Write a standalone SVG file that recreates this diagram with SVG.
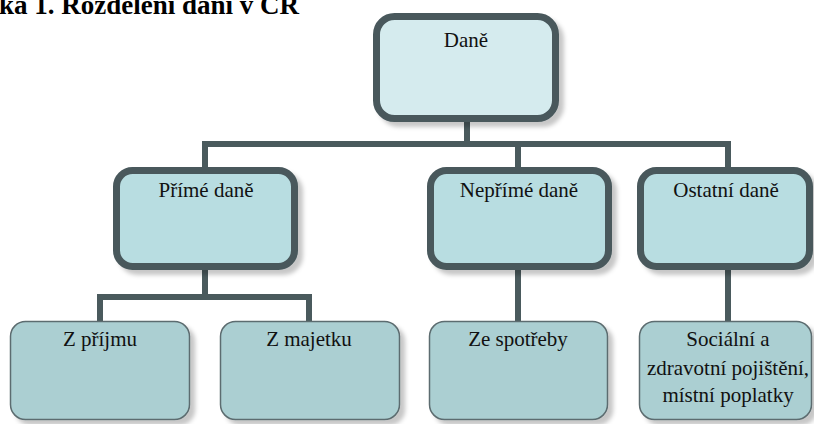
<svg xmlns="http://www.w3.org/2000/svg" width="814" height="424" viewBox="0 0 814 424">
  <defs>
    <filter id="shadow" x="-10%" y="-10%" width="130%" height="130%">
      <feGaussianBlur in="SourceAlpha" stdDeviation="2"/>
      <feOffset dx="5" dy="5" result="off"/>
      <feFlood flood-color="#000000" flood-opacity="0.22"/>
      <feComposite in2="off" operator="in"/>
      <feMerge>
        <feMergeNode/>
        <feMergeNode in="SourceGraphic"/>
      </feMerge>
    </filter>
  </defs>
  <style>
    .title { font-family: "Liberation Serif", "Times New Roman", serif; font-weight: bold; font-size: 27px; fill: #000; }
    .lbl { font-family: "Liberation Serif", "Times New Roman", serif; font-size: 21px; fill: #111; text-anchor: middle; }
    .top { fill: #d5ebee; stroke: #48585c; stroke-width: 7; filter: url(#shadow); }
    .mid { fill: #b8dde1; stroke: #48585c; stroke-width: 7; filter: url(#shadow); }
    .leaf { fill: #abcfd2; stroke: #5c6c6f; stroke-width: 1.5; filter: url(#shadow); }
    .conn { fill: none; stroke: #4a5a5d; stroke-width: 6; stroke-linejoin: miter; }
  </style>

  <rect width="814" height="424" fill="#ffffff"/>

  <text class="title" x="-1" y="14">ka 1. Rozdělení daní v ČR</text>

  <g id="connectors">
    <polyline class="conn" points="467,120 467,144"/>
    <polyline class="conn" points="205,170 205,144 728,144 728,170"/>
    <polyline class="conn" points="518,144 518,170"/>
    <polyline class="conn" points="100,322 100,297 309,297 309,322"/>
    <polyline class="conn" points="205,268 205,297"/>
    <polyline class="conn" points="518,268 518,322"/>
    <polyline class="conn" points="728,268 728,322"/>
  </g>

  <g id="dane">
    <rect class="top" x="376.5" y="16.5" width="179" height="102" rx="18"/>
    <text class="lbl" x="466" y="47">Daně</text>
  </g>

  <g id="prime-dane">
    <rect class="mid" x="116.5" y="170.5" width="178" height="96" rx="16"/>
    <text class="lbl" x="206" y="197">Přímé daně</text>
  </g>

  <g id="neprime-dane">
    <rect class="mid" x="430.5" y="170.5" width="178" height="96" rx="16"/>
    <text class="lbl" x="519" y="197">Nepřímé daně</text>
  </g>

  <g id="ostatni-dane">
    <rect class="mid" x="640.5" y="170.5" width="169" height="96" rx="16"/>
    <text class="lbl" x="726" y="197">Ostatní daně</text>
  </g>

  <g id="z-prijmu">
    <rect class="leaf" x="10.5" y="321.5" width="179" height="98" rx="15"/>
    <text class="lbl" x="100" y="346">Z příjmu</text>
  </g>

  <g id="z-majetku">
    <rect class="leaf" x="220.5" y="321.5" width="179" height="98" rx="15"/>
    <text class="lbl" x="309" y="346">Z majetku</text>
  </g>

  <g id="ze-spotreby">
    <rect class="leaf" x="429.5" y="321.5" width="178" height="98" rx="15"/>
    <text class="lbl" x="518" y="346">Ze spotřeby</text>
  </g>

  <g id="socialni">
    <rect class="leaf" x="639.5" y="321.5" width="172" height="98" rx="15"/>
    <text class="lbl" x="728" y="346">Sociální a</text>
    <text class="lbl" x="728" y="375">zdravotní pojištění,</text>
    <text class="lbl" x="728" y="402">místní poplatky</text>
  </g>
</svg>
